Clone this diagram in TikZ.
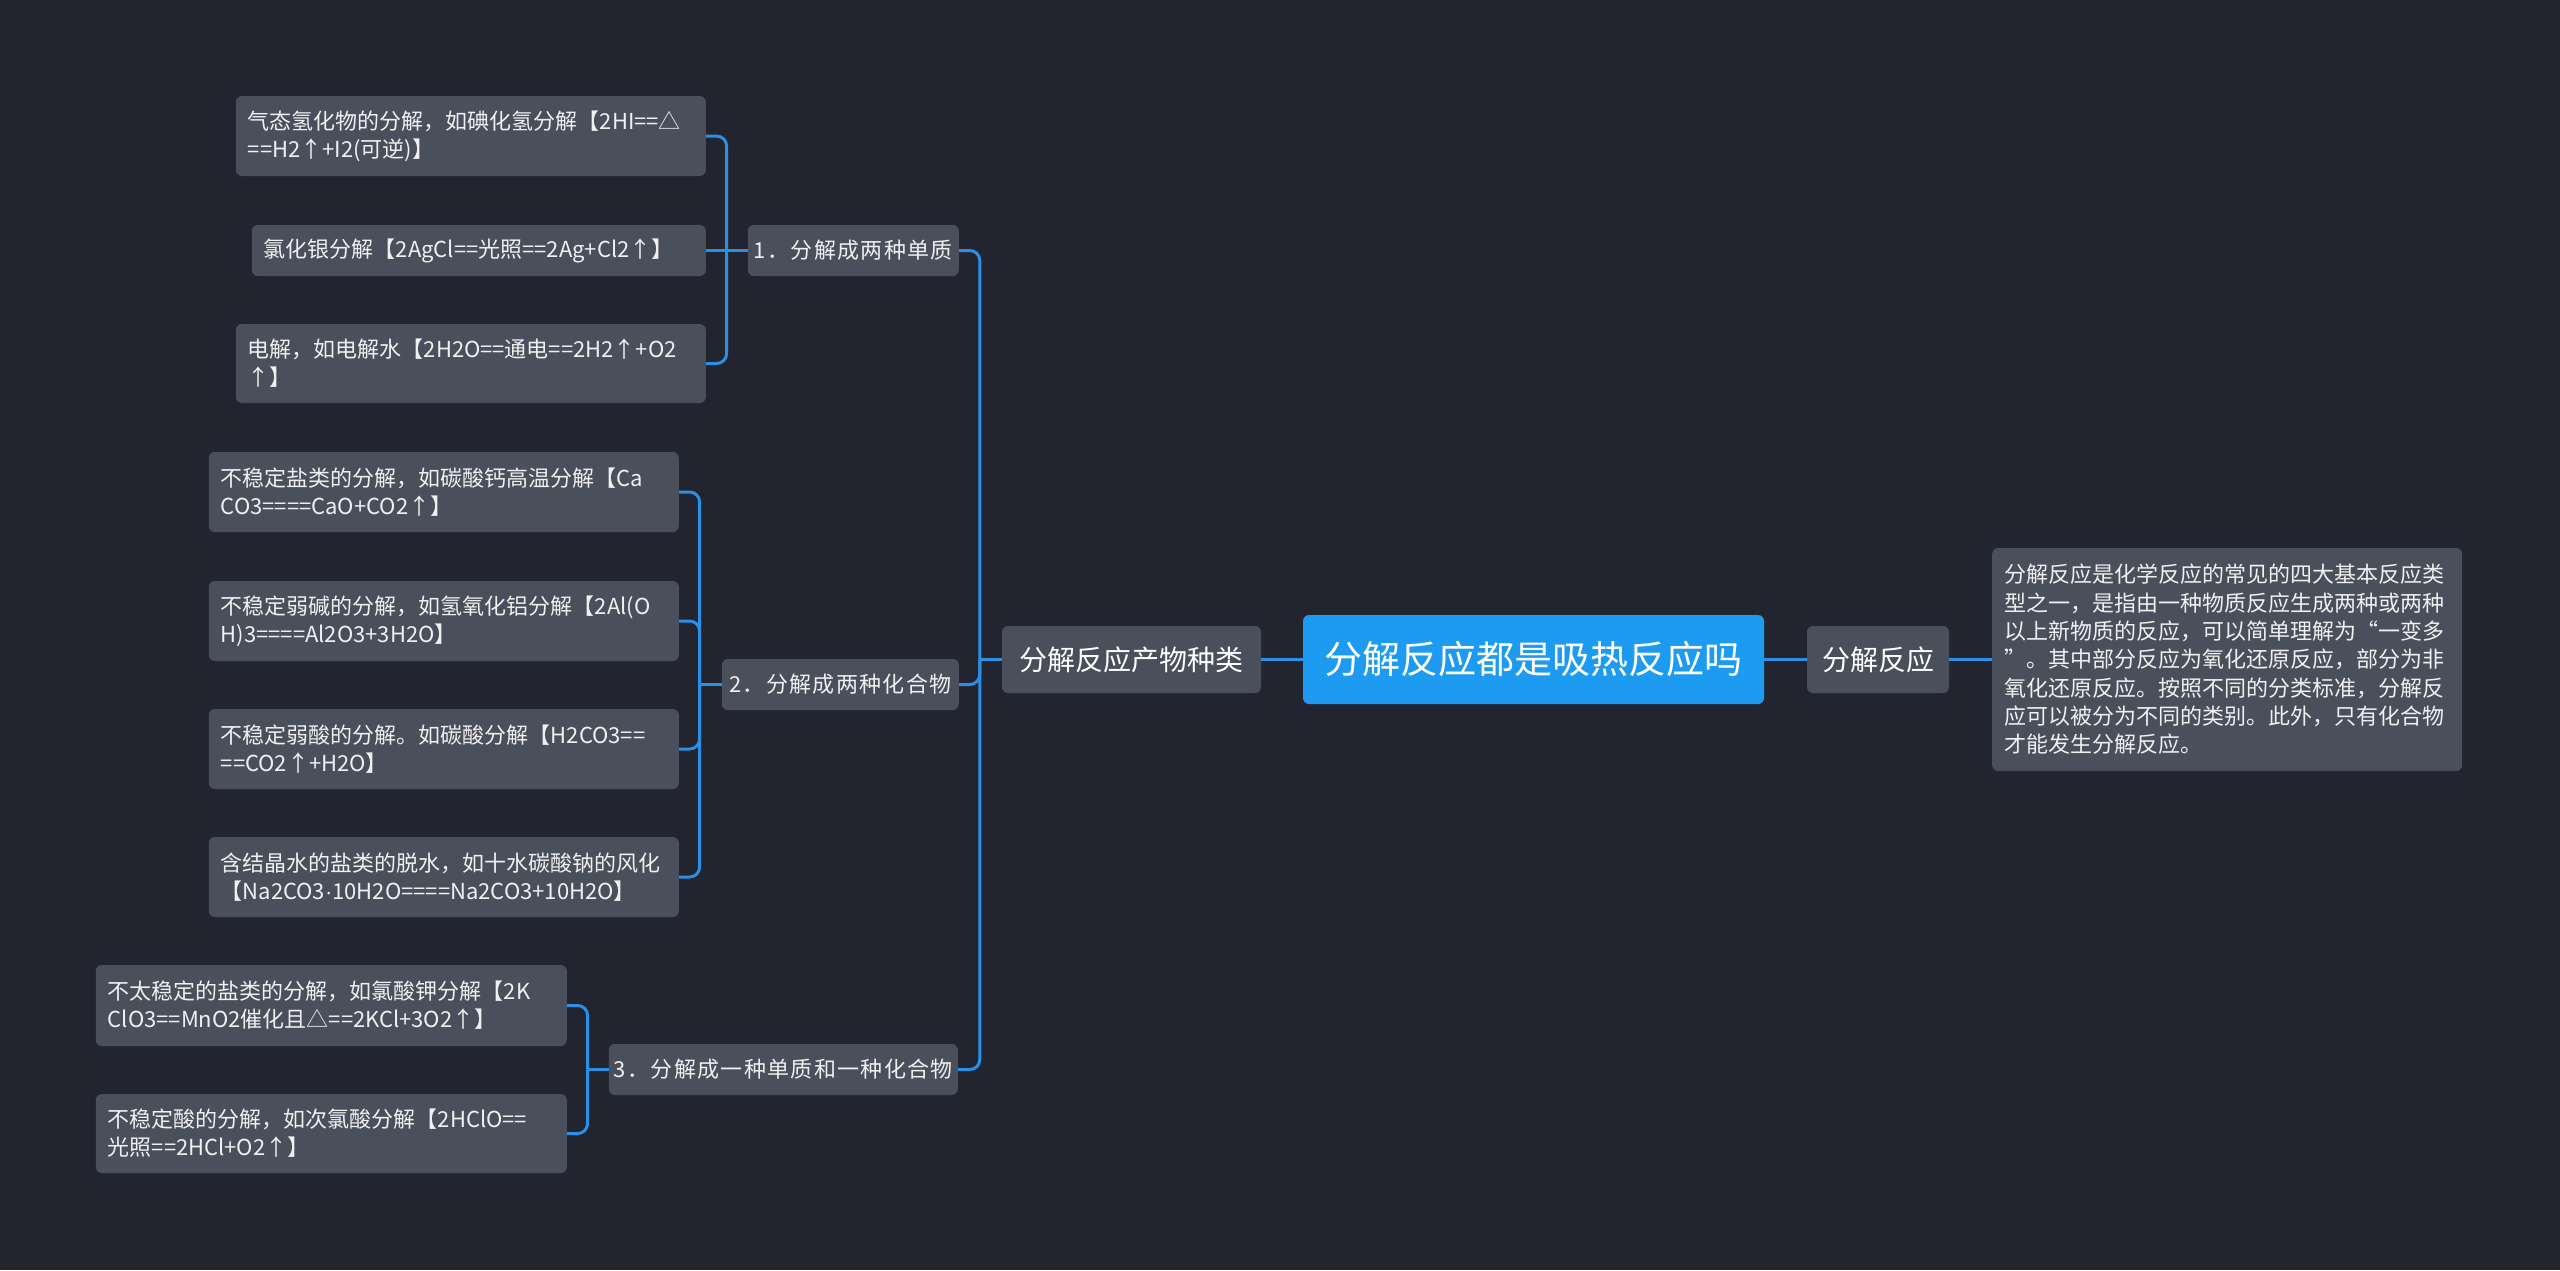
\documentclass[tikz,border=0pt]{standalone}
\usepackage{fontspec}
\setmainfont{Noto Sans CJK SC}
\newfontfamily\spaced{Noto Sans CJK SC}[LetterSpace=6]
\newfontfamily\latinfont{Liberation Sans}
\definecolor{bg}{HTML}{22252F}
\definecolor{nodegray}{HTML}{4A4F5C}
\definecolor{rootblue}{HTML}{1C9BF0}
\definecolor{linkblue}{HTML}{2A8FE6}
\definecolor{leaftext}{HTML}{F0F0F0}
\begin{document}
\begin{tikzpicture}[x=1pt,y=-1pt,
  box/.style={fill=nodegray, rounded corners=6pt, inner xsep=12pt, inner ysep=0pt, text=leaftext},
  leaf/.style={box, anchor=east, align=left, font=\fontsize{22}{28}\selectfont},
  mid/.style={box, anchor=east, align=center, minimum height=51pt, inner xsep=0pt, font=\spaced\fontsize{22}{28}\selectfont},
  conn/.style={draw=linkblue, line width=3pt, rounded corners=10pt}]
\fill[bg] (0,0) rectangle (2560,1270);
\useasboundingbox (0,0) rectangle (2560,1270);

% central nodes
\node[box, fill=rootblue, text=white, minimum width=461pt, minimum height=89pt, inner xsep=0pt, font=\fontsize{38}{44}\selectfont] (root) at (1533.5,659.5) {分解反应都是吸热反应吗};
\node[box, text=white, minimum width=259pt, minimum height=67pt, inner xsep=0pt, font=\fontsize{28}{34}\selectfont] (L1) at (1131.5,659.5) {分解反应产物种类};
\node[box, text=white, minimum width=142pt, minimum height=67pt, inner xsep=0pt, font=\fontsize{28}{34}\selectfont] (R1) at (1878,659.5) {分解反应};
\node[box, anchor=west, align=left, text width=446pt, minimum height=223pt, font=\fontsize{22}{28.3}\selectfont] (desc) at (1992,659.5) {分解反应是化学反应的常见的四大基本反应类\\型之一，是指由一种物质反应生成两种或两种\\以上新物质的反应，可以简单理解为“一变多\\”。其中部分反应为氧化还原反应，部分为非\\氧化还原反应。按照不同的分类标准，分解反\\应可以被分为不同的类别。此外，只有化合物\\才能发生分解反应。};

% level 2
\node[mid, minimum width=211pt] (g1) at (959,250.5) {1．分解成两种单质};
\node[mid, minimum width=237pt] (g2) at (959,684.5) {2．分解成两种化合物};
\node[mid, minimum width=349pt] (g3) at (958,1069.5) {3．分解成一种单质和一种化合物};

% leaves group 1
\node[leaf, text width=446pt, minimum height=80pt] (a1) at (706,136) {气态氢化物的分解，如碘化氢分解【2HI==△\\==H2↑+I2(可逆)】};
\node[leaf, text width=430pt, minimum height=51pt] (a2) at (706,250.5) {氯化银分解【2AgCl==光照==2Ag+Cl2↑】};
\node[leaf, text width=446pt, minimum height=79pt] (a3) at (706,363.5) {电解，如电解水【2H2O==通电==2H2↑+O2\\↑】};

% leaves group 2
\node[leaf, text width=446pt, minimum height=80pt] (b1) at (679,492) {不稳定盐类的分解，如碳酸钙高温分解【Ca\\CO3====CaO+CO2↑】};
\node[leaf, text width=446pt, minimum height=80pt] (b2) at (679,621) {不稳定弱碱的分解，如氢氧化铝分解【2Al(O\\H)3====Al2O3+3H2O】};
\node[leaf, text width=446pt, minimum height=80pt] (b3) at (679,749) {不稳定弱酸的分解。如碳酸分解【H2CO3==\\==CO2↑+H2O】};
\node[leaf, text width=446pt, minimum height=80pt] (b4) at (679,877) {含结晶水的盐类的脱水，如十水碳酸钠的风化\\【Na2CO3{\latinfont ·}10H2O====Na2CO3+10H2O】};

% leaves group 3
\node[leaf, text width=447pt, minimum height=81pt] (c1) at (567,1005.5) {不太稳定的盐类的分解，如氯酸钾分解【2K\\ClO3==MnO2催化且△==2KCl+3O2↑】};
\node[leaf, text width=447pt, minimum height=79pt] (c2) at (567,1133.5) {不稳定酸的分解，如次氯酸分解【2HClO==\\光照==2HCl+O2↑】};

% connectors: centre
\draw[conn] (root.west) -- (L1.east);
\draw[conn] (root.east) -- (R1.west);
\draw[conn] (R1.east) -- (desc.west);

% main bracket
\draw[conn] (L1.west) -- ++(-22,0) coordinate (jm);
\draw[conn] (jm) |- (g1.east);
\draw[conn] (jm) |- (g2.east);
\draw[conn] (jm) |- (g3.east);

% group 1
\draw[conn] (g1.west) -- ++(-21,0) coordinate (j1);
\draw[conn] (j1) |- (a1.east);
\draw[conn] (j1) -- (a2.east);
\draw[conn] (j1) |- (a3.east);

% group 2
\draw[conn] (g2.west) -- ++(-22,0) coordinate (j2);
\draw[conn] (j2) |- (b1.east);
\draw[conn] (j2) |- (b2.east);
\draw[conn] (j2) |- (b3.east);
\draw[conn] (j2) |- (b4.east);

% group 3
\draw[conn] (g3.west) -- ++(-21,0) coordinate (j3);
\draw[conn] (j3) |- (c1.east);
\draw[conn] (j3) |- (c2.east);
\end{tikzpicture}
\end{document}
